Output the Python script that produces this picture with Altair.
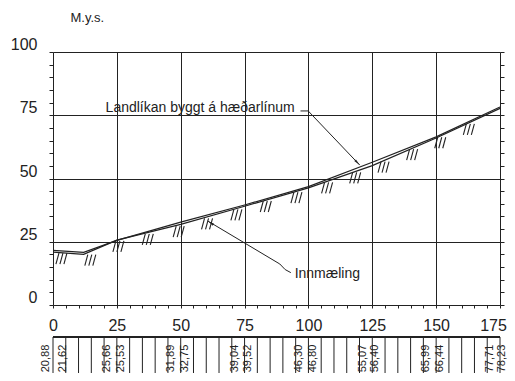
import altair as alt
import pandas as pd

# ---------------- data ----------------
stations = [0, 12, 25, 50, 75, 100, 125, 150, 175]
innmaeling = [20.88, 20.0, 25.66, 31.89, 39.04, 46.30, 55.07, 65.99, 77.71]
landlikan = [21.62, 20.8, 25.53, 32.75, 39.52, 46.80, 56.40, 66.44, 78.23]

hatch_x = [3.5, 14.8, 25.8, 37.3, 49.4, 60.5, 72.0, 83.5, 95.5, 107.5, 118.5, 129.6, 140.8, 151.8, 163.0]
hatch_y = [20.9, 20.3, 25.7, 28.5, 31.6, 34.6, 38.2, 41.5, 45.0, 48.9, 52.8, 57.1, 62.0, 66.7, 72.0]

table_labels = ["20,88", "21,62", "25,66", "25,53", "31,89", "32,75", "39,04", "39,52",
                "46,30", "46,80", "55,07", "56,40", "65,99", "66,44", "77,71", "78,23"]
table_label_x = [-2.9, 3.9, 21.0, 26.5, 46.3, 51.6, 71.2, 76.2,
                 96.2, 101.7, 121.4, 126.2, 145.9, 151.4, 171.0, 175.7]
table_cols = list(range(0, 176, 5))

x_ticks = list(range(0, 176, 5))
y_ticks = list(range(0, 101, 5))

# annotation anchors (data units)
landl_text = {"x": 20.6, "y": 77.9, "t": "Landlíkan byggt á hæðarlínum"}
landl_leader_x = [96.9, 99.9, 120.1]
landl_leader_y = [76.7, 76.7, 55.3]
innm_text = {"x": 94.6, "y": 12.3, "t": "Innmæling"}
innm_leader_x = [60.6, 88.8, 90.9, 93.1]
innm_leader_y = [33.2, 16.2, 14.0, 12.8]
arrows = pd.DataFrame({"x": [120.1, 60.6], "y": [55.3, 33.2], "a": [136, 303]})

# ---------------- styling ----------------
W, H = 447, 253
PAD_L, PAD_T, PAD_R, PAD_B = 45, 44, 7, 68
TAB_TOP = 285          # table top, px below plot top
INK = "#222222"
FONT = "Liberation Sans"

xs = alt.Scale(domain=[0, 175], nice=False, zero=False)
ys = alt.Scale(domain=[0, 100], nice=False, zero=False)
grid25 = {"condition": {"test": "datum.value % 25 === 0", "value": 1}, "value": 0}
lastshift = {"condition": {"test": "datum.value === 175", "value": -7}, "value": 0}

x_axis = alt.Axis(values=x_ticks, labelExpr="datum.value % 25 === 0 ? datum.label : ''",
                  grid=True, gridColor=INK, gridOpacity=grid25, gridWidth=1,
                  tickSize=3, tickColor=INK, domain=False, labelFontSize=16, labelFont=FONT,
                  labelColor=INK, labelPadding=9, labelAngle=0, labelFlush=False,
                  labelOffset=lastshift, labelOverlap=False, title=None)
y_axis_left = alt.Axis(values=y_ticks, labelExpr="datum.value % 25 === 0 ? datum.label : ''",
                       grid=True, gridColor=INK, gridOpacity=grid25, gridWidth=1,
                       tickSize=4, tickColor=INK, domain=False, labelFontSize=16, labelFont=FONT,
                       labelColor=INK, labelPadding=12, labelOffset=-7.5, labelFlush=False,
                       labelOverlap=False, orient="left",
                       title="M.y.s.", titleAngle=0, titleAlign="left", titleBaseline="middle",
                       titleX=17, titleY=-35, titleFont=FONT, titleFontSize=13,
                       titleFontWeight="normal", titleColor=INK)
y_axis_right = alt.Axis(values=y_ticks, labels=False, grid=False, tickSize=4, tickColor=INK,
                        domain=False, orient="right", title=None)

X = alt.X("x:Q", scale=xs, axis=x_axis)

lines_in = pd.DataFrame({"x": stations, "y": innmaeling})
lines_la = pd.DataFrame({"x": stations, "y": landlikan})

line_in = alt.Chart(lines_in).mark_line(color=INK, strokeWidth=1.2).encode(
    x=X, y=alt.Y("y:Q", scale=ys, axis=y_axis_left),
)
line_la = alt.Chart(lines_la).mark_line(color=INK, strokeWidth=1.2).encode(
    x=X, y=alt.Y("y:Q", scale=ys, axis=y_axis_right),
)

hatch_df = pd.DataFrame({"x": hatch_x, "y": hatch_y})
hatch_layers = []
for dx in (-4, 0, 4):
    hatch_layers.append(
        alt.Chart(hatch_df).mark_rule(color=INK, strokeWidth=1.1,
                                      xOffset=dx - 2, yOffset=12, x2Offset=dx + 1, y2Offset=1).encode(
            x=X, x2="x:Q",
            y=alt.Y("y:Q", scale=ys, axis=None), y2="y:Q",
        )
    )

def leader(xv, yv):
    df = pd.DataFrame({"x": xv, "y": yv, "o": list(range(len(xv)))})
    return alt.Chart(df).mark_line(color=INK, strokeWidth=1).encode(
        x=X, y=alt.Y("y:Q", scale=ys, axis=None), order="o:Q")

def label(d):
    return alt.Chart(pd.DataFrame({"x": [d["x"]], "y": [d["y"]], "t": [d["t"]]})).mark_text(
        align="left", baseline="middle", font=FONT, fontSize=14, color=INK).encode(
        x=X, y=alt.Y("y:Q", scale=ys, axis=None), text="t:N")

arrow_layer = alt.Chart(arrows).mark_point(
    shape="M0,0L-0.35,2L0.35,2Z", filled=True, color=INK, opacity=1, size=45).encode(
    x=X, y=alt.Y("y:Q", scale=ys, axis=None), angle=alt.Angle("a:Q", scale=None))

# ---------------- table (below the x axis) ----------------
cols_df = pd.DataFrame({"x": table_cols})
tab_df = pd.DataFrame({"x": table_label_x, "t": table_labels})
tab_v = alt.Chart(cols_df).mark_rule(color=INK, strokeWidth=1).encode(
    x=X, y=alt.value(TAB_TOP), y2=alt.value(TAB_TOP + 60))
tab_top = alt.Chart(cols_df).mark_rule(color=INK, strokeWidth=1).encode(
    x=alt.value(0), x2=alt.value(W), y=alt.value(TAB_TOP))
tab_txt = alt.Chart(tab_df).mark_text(angle=270, align="center", baseline="middle",
                                      font=FONT, fontSize=11, color=INK).encode(
    x=X, y=alt.value(TAB_TOP + 21.5), text="t:N")

chart = alt.layer(
    line_in, line_la, *hatch_layers,
    leader(landl_leader_x, landl_leader_y), leader(innm_leader_x, innm_leader_y),
    label(landl_text), label(innm_text), arrow_layer,
    tab_v, tab_top, tab_txt,
).resolve_axis(y="independent").properties(
    width=W, height=H,
    autosize=alt.AutoSizeParams(type="none"),
    padding={"left": PAD_L, "top": PAD_T, "right": PAD_R, "bottom": PAD_B},
).configure_view(strokeOpacity=0).configure(background="white")

chart.save("out.html", embed_options={"renderer": "svg", "actions": False})
